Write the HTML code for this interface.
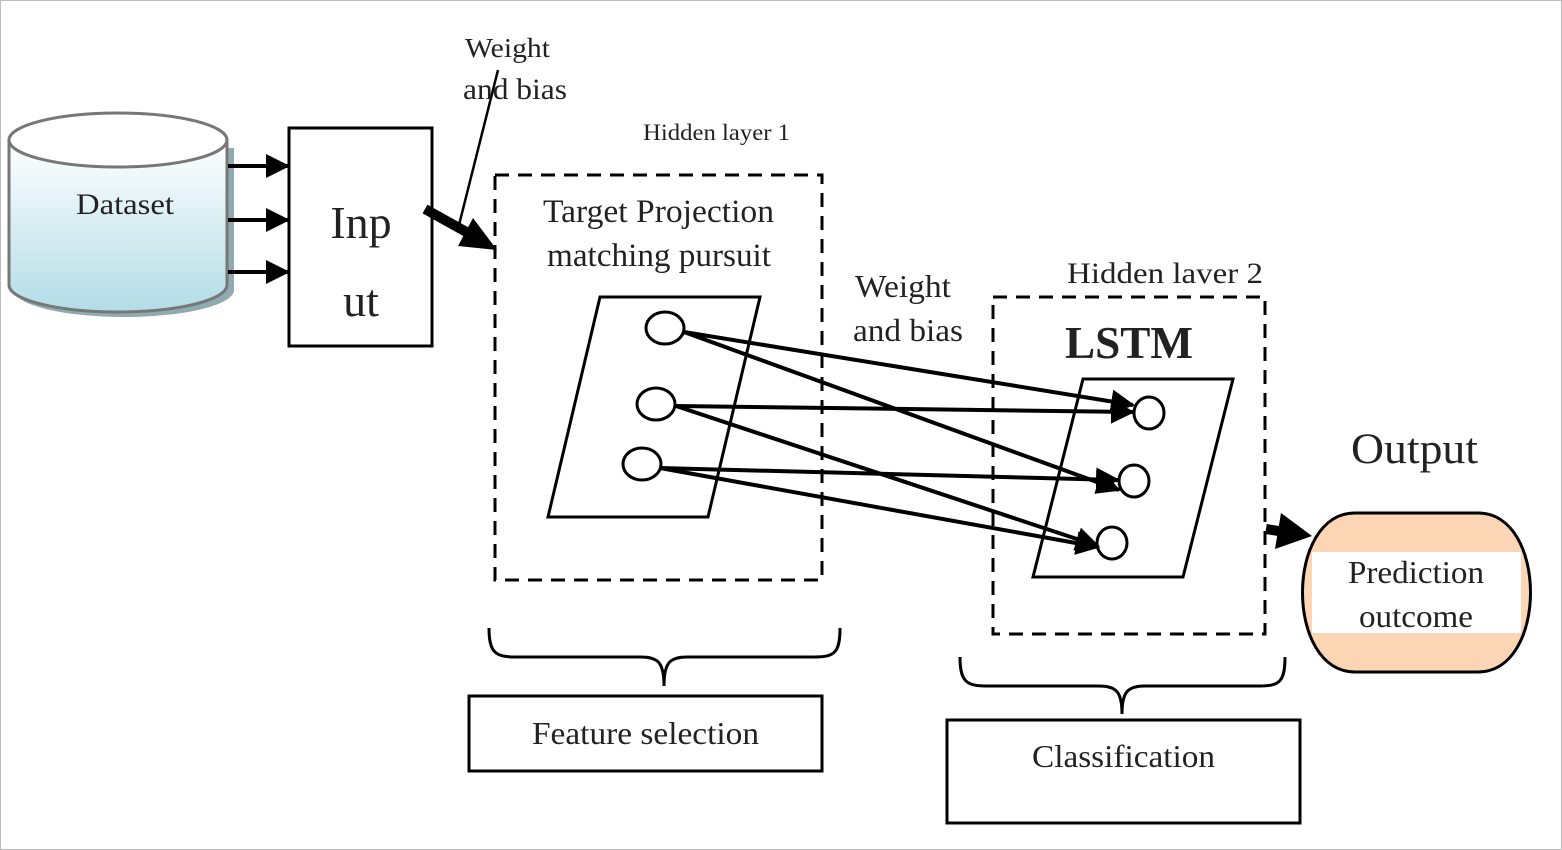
<!DOCTYPE html>
<html><head><style>body{margin:0;background:#fff}svg{display:block}text{font-family:"Liberation Serif",serif;fill:#222}</style></head><body>
<svg width="1562" height="850" viewBox="0 0 1562 850" xmlns="http://www.w3.org/2000/svg">
<defs>
<linearGradient id="cg" x1="0" y1="0" x2="0" y2="1"><stop offset="0" stop-color="#ffffff"/><stop offset="1" stop-color="#b2dde6"/></linearGradient>
<marker id="ah2" markerWidth="24" markerHeight="24" refX="22" refY="12" orient="auto" markerUnits="userSpaceOnUse"><path d="M0,0 L24,12 L0,24 z" fill="#000"/></marker>
</defs>
<rect x="0.5" y="0.5" width="1561" height="849" fill="none" stroke="#bbb"/>
<path d="M14,148 L14,290 A110,27 0 0 0 234,290 L234,148 Z" fill="#8fabb0"/>
<path d="M9,140 L9,285 A109,27 0 0 0 227,285 L227,140" fill="url(#cg)" stroke="#777" stroke-width="3"/>
<ellipse cx="118" cy="140" rx="109" ry="27" fill="#fff" stroke="#777" stroke-width="3"/>
<text x="76" y="214" font-size="30" textLength="98" lengthAdjust="spacingAndGlyphs">Dataset</text>
<g stroke="#000" stroke-width="4">
<line x1="228" y1="166" x2="288" y2="166" marker-end="url(#ah2)"/>
<line x1="228" y1="220" x2="288" y2="220" marker-end="url(#ah2)"/>
<line x1="228" y1="272" x2="288" y2="272" marker-end="url(#ah2)"/>
</g>
<rect x="289" y="128" width="143" height="218" fill="#fff" stroke="#000" stroke-width="3"/>
<text x="361" y="238" font-size="46" text-anchor="middle">Inp</text>
<text x="361" y="316" font-size="46" text-anchor="middle">ut</text>
<line x1="425" y1="209" x2="470" y2="234" stroke="#000" stroke-width="10"/>
<polygon points="497,250 473,218 458,246" fill="#000"/>
<line x1="498" y1="70" x2="459" y2="225" stroke="#000" stroke-width="2.5"/>
<text x="465" y="57" font-size="27" textLength="85" lengthAdjust="spacingAndGlyphs">Weight</text>
<text x="463" y="99" font-size="30" textLength="104" lengthAdjust="spacingAndGlyphs">and bias</text>
<text x="643" y="140" font-size="23" textLength="147" lengthAdjust="spacingAndGlyphs">Hidden layer 1</text>
<rect x="495" y="175" width="327" height="405" fill="none" stroke="#000" stroke-width="3" stroke-dasharray="14,9"/>
<text x="543" y="222" font-size="33" textLength="231" lengthAdjust="spacingAndGlyphs">Target Projection</text>
<text x="547" y="266" font-size="33" textLength="224" lengthAdjust="spacingAndGlyphs">matching pursuit</text>
<path d="M600,297 L760,297 L708,517 L548,517 Z" fill="#fff" stroke="#000" stroke-width="3"/>
<text x="855" y="297" font-size="32" textLength="96" lengthAdjust="spacingAndGlyphs">Weight</text>
<text x="853" y="341" font-size="32" textLength="110" lengthAdjust="spacingAndGlyphs">and bias</text>
<text x="1067" y="283" font-size="30" textLength="196" lengthAdjust="spacingAndGlyphs">Hidden laver 2</text>
<rect x="993" y="297" width="272" height="337" fill="none" stroke="#000" stroke-width="3" stroke-dasharray="14,9"/>
<text x="1065" y="358" font-size="46" font-weight="bold" textLength="128" lengthAdjust="spacingAndGlyphs">LSTM</text>
<path d="M1083,379 L1233,379 L1183,577 L1033,577 Z" fill="#fff" stroke="#000" stroke-width="3"/>
<g fill="#fff" stroke="#000" stroke-width="3">
<ellipse cx="665" cy="328" rx="19" ry="16"/>
<ellipse cx="656" cy="404" rx="19" ry="16"/>
<ellipse cx="642" cy="464" rx="19" ry="16"/>
<ellipse cx="1149" cy="413" rx="15" ry="16"/>
<ellipse cx="1134" cy="481" rx="15" ry="16"/>
<ellipse cx="1112" cy="543" rx="15" ry="16"/>
</g>
<g stroke="#000" stroke-width="4">
<line x1="684" y1="332" x2="1133" y2="405" marker-end="url(#ah2)"/>
<line x1="684" y1="332" x2="1119" y2="490" marker-end="url(#ah2)"/>
<line x1="676" y1="406" x2="1133" y2="412" marker-end="url(#ah2)"/>
<line x1="676" y1="406" x2="1098" y2="546" marker-end="url(#ah2)"/>
<line x1="660" y1="468" x2="1118" y2="480" marker-end="url(#ah2)"/>
<line x1="660" y1="468" x2="1098" y2="547" marker-end="url(#ah2)"/>
</g>
<text x="1351" y="463" font-size="43" textLength="127" lengthAdjust="spacingAndGlyphs">Output</text>
<path d="M1355,513 L1478,513 C1548,513 1548,672 1478,672 L1355,672 C1285,672 1285,513 1355,513 Z" fill="#fcd5b5" stroke="#000" stroke-width="3"/>
<rect x="1312" y="552" width="209" height="81" fill="#fff"/>
<line x1="1266" y1="529" x2="1285" y2="532" stroke="#000" stroke-width="10"/>
<polygon points="1312,536 1281,513 1275,549" fill="#000"/>
<text x="1348" y="583" font-size="32" textLength="136" lengthAdjust="spacingAndGlyphs">Prediction</text>
<text x="1359" y="627" font-size="32" textLength="114" lengthAdjust="spacingAndGlyphs">outcome</text>
<g fill="none" stroke="#000" stroke-width="3">
<path d="M489,628 C489,652 495,657 515,657 L640,657 C658,657 664,662 664,686 C664,662 670,657 688,657 L815,657 C835,657 840,652 840,628"/>
<path d="M960,657 C960,681 966,686 986,686 L1098,686 C1116,686 1122,691 1122,714 C1122,691 1128,686 1146,686 L1260,686 C1280,686 1285,681 1285,657"/>
</g>
<rect x="469" y="696" width="353" height="75" fill="#fff" stroke="#000" stroke-width="3"/>
<text x="532" y="744" font-size="32" textLength="227" lengthAdjust="spacingAndGlyphs">Feature selection</text>
<rect x="947" y="720" width="353" height="103" fill="#fff" stroke="#000" stroke-width="3"/>
<text x="1032" y="767" font-size="32" textLength="183" lengthAdjust="spacingAndGlyphs">Classification</text>
</svg>
</body></html>
